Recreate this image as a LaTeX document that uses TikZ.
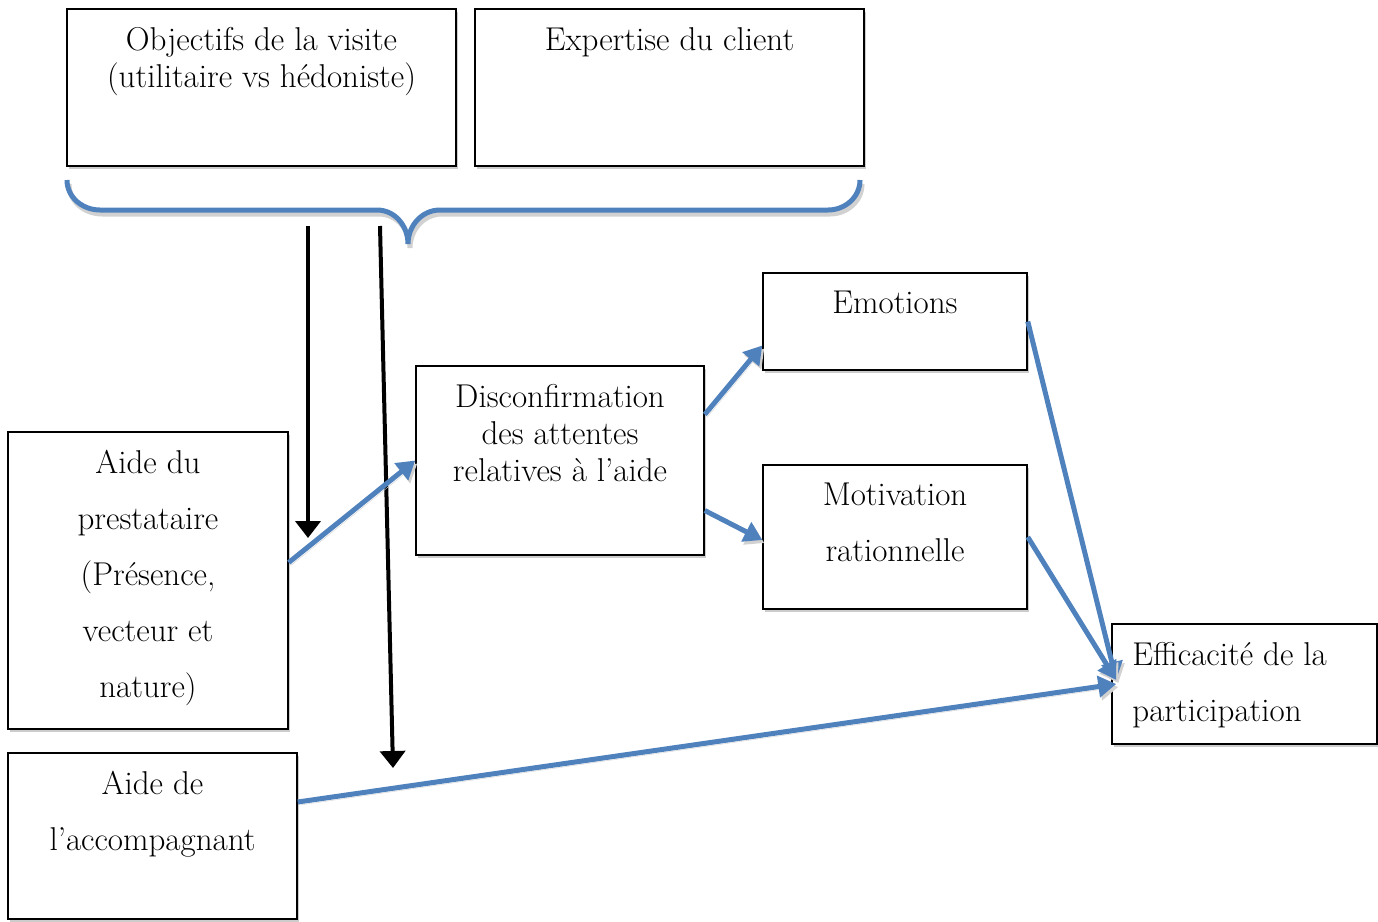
\documentclass[tikz,border=0pt]{standalone}
\usepackage{tikz}
\usetikzlibrary{arrows.meta,shadows}
\definecolor{bleu}{HTML}{4F81BD}
\begin{document}
\begin{tikzpicture}[x=1pt,y=-1pt]

    \tikzstyle{cadre} = [draw, rectangle, line width=1.5pt, inner sep=0pt, fill=white, drop shadow={shadow xshift=2pt, shadow yshift=-3pt, fill=black!20, opacity=1}]
    \tikzstyle{txt} = [anchor=north, inner sep=0pt, yshift=-19pt, align=center, font=\fontsize{33}{37}\selectfont]
    \tikzstyle{txtlarge} = [txt, font=\fontsize{33}{56}\selectfont]
    \tikzstyle{fleche} = [line width=4pt, -{Triangle[length=17pt,width=25pt]}]
    \tikzstyle{lien} = [draw=bleu, line width=5pt, -{Triangle[length=18pt,width=21pt]}, preaction={draw=black!18, transform canvas={shift={(2pt,-3pt)}}}]

    \useasboundingbox (0,0) rectangle (1378,921);

    % Nodes
    \node[cadre, minimum width=389, minimum height=157, label={[txt]north:{Objectifs de la visite\\(utilitaire vs hédoniste)}}] at (261.5,87.5) (obj) {};
    \node[cadre, minimum width=389, minimum height=157, label={[txt]north:{Expertise du client}}] at (669.5,87.5) (expe) {};
    \node[cadre, minimum width=264, minimum height=97, label={[txt]north:{Emotions}}] at (895,321.5) (emo) {};
    \node[cadre, minimum width=288, minimum height=189, label={[txt]north:{Disconfirmation\\des attentes\\relatives à l’aide}}] at (560,460.5) (dis) {};
    \node[cadre, minimum width=264, minimum height=144, label={[txtlarge]north:{Motivation\\rationnelle}}] at (895,537) (mot) {};
    \node[cadre, minimum width=280, minimum height=297, label={[txtlarge]north:{Aide du\\prestataire\\(Présence,\\vecteur et\\nature)}}] at (148,580.5) (prest) {};
    \node[cadre, minimum width=289, minimum height=166, label={[txtlarge]north:{Aide de\\l’accompagnant}}] at (152.5,836) (acc) {};
    \node[cadre, minimum width=265, minimum height=120, label={[txtlarge, anchor=north west, align=left, xshift=21pt]north west:{Efficacité de la\\participation}}] at (1244.5,684) (eff) {};

    % Brace
    \draw[black!18, line width=5pt, transform canvas={shift={(2pt,-4pt)}}] (67,180) to[out=-90,in=180] (100,210) -- (377,210) to[out=0,in=90] (408,244) to[out=90,in=180] (440,210) -- (828,210) to[out=0,in=-90] (860,180);
    \draw[bleu, line width=5pt] (67,180) to[out=-90,in=180] (100,210) -- (377,210) to[out=0,in=90] (408,244) to[out=90,in=180] (440,210) -- (828,210) to[out=0,in=-90] (860,180);

    % Arrows
    \coordinate (b1) at (308,226);
    \coordinate (b2) at (380,226);
    \coordinate (e1) at (308,538);
    \coordinate (e2) at (393,768);
    \draw[fleche] (b1) -- (e1);
    \draw[fleche] (b2) -- (e2);

    \draw[lien] ([yshift=18pt]prest.east) -- (dis.west);
    \draw[lien] ([yshift=46pt]dis.east) -- ([yshift=-24pt]emo.west);
    \draw[lien] ([yshift=-50pt]dis.east) -- ([yshift=-3pt]mot.west);
    \draw[lien] (emo.east) -- ([xshift=5pt,yshift=4pt]eff.west);
    \draw[lien] (mot.east) -- ([xshift=5pt,yshift=4pt]eff.west);
    \draw[lien] ([yshift=34pt]acc.east) -- ([xshift=5pt]eff.west);

\end{tikzpicture}
\end{document}
